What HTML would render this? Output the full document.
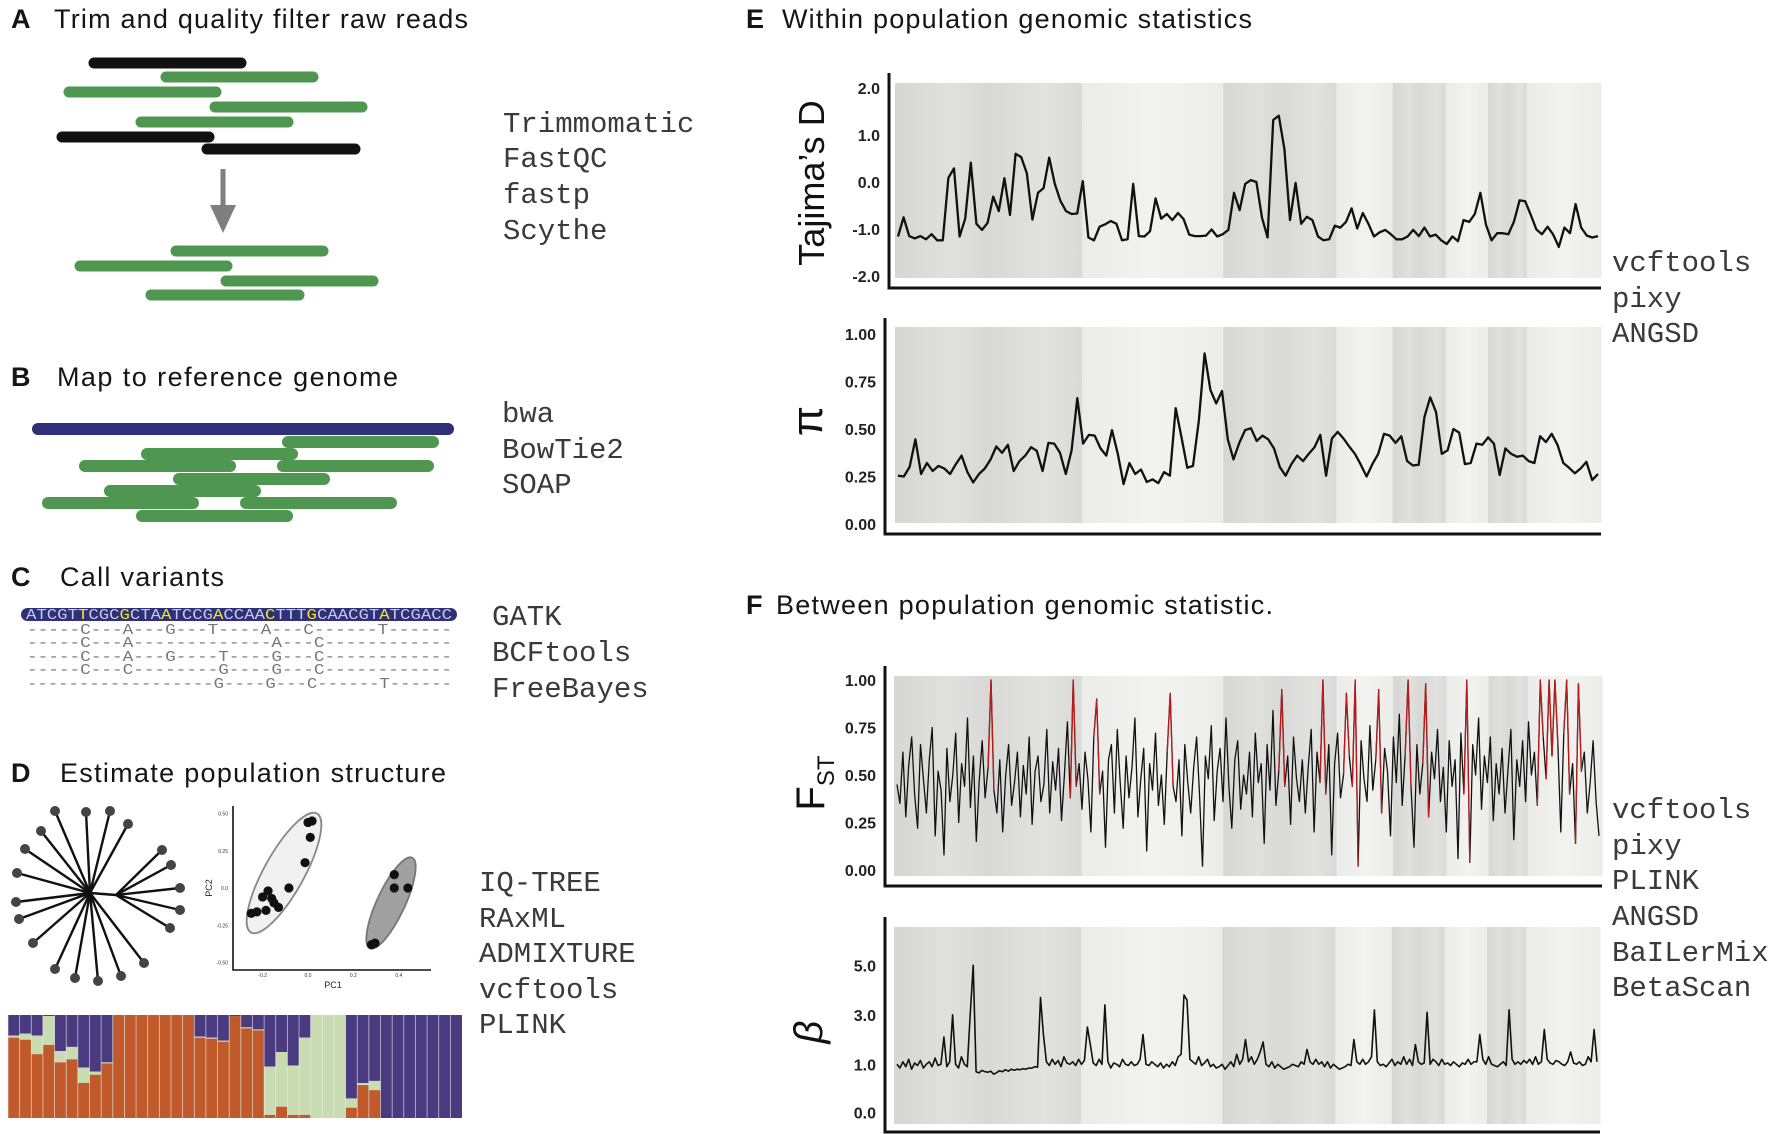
<!DOCTYPE html>
<html><head><meta charset="utf-8"><style>
html,body{margin:0;padding:0;background:#fff;}
svg{display:block;}
.ttl{font-family:"Liberation Sans",sans-serif;font-size:27px;fill:#151515;}
.lt{font-family:"Liberation Sans",sans-serif;font-size:27px;font-weight:bold;fill:#151515;}
.tool{font-family:"Liberation Mono",monospace;font-size:29px;fill:#3a3a3a;}
.tick{font-family:"Liberation Sans",sans-serif;font-size:16px;font-weight:bold;fill:#222;}
.seq{font-family:"Liberation Mono",monospace;font-size:15px;fill:#777;}
</style></head><body>
<svg id="fig" width="1772" height="1134" viewBox="0 0 1772 1134" xmlns="http://www.w3.org/2000/svg">
<text class="lt" x="11" y="28">A</text>
<text class="ttl" x="54" y="28" textLength="414">Trim and quality filter raw reads</text>
<text class="lt" x="11" y="386">B</text>
<text class="ttl" x="57" y="386" textLength="341">Map to reference genome</text>
<text class="lt" x="11" y="586">C</text>
<text class="ttl" x="60" y="586" textLength="164">Call variants</text>
<text class="lt" x="11" y="782">D</text>
<text class="ttl" x="60" y="782" textLength="386">Estimate population structure</text>
<text class="lt" x="746" y="28">E</text>
<text class="ttl" x="782" y="28" textLength="470">Within population genomic statistics</text>
<text class="lt" x="746" y="614">F</text>
<text class="ttl" x="776" y="614" textLength="497">Between population genomic statistic.</text>

<g>
<text class="tool" x="503" y="132">Trimmomatic</text><text class="tool" x="503" y="167">FastQC</text>
<text class="tool" x="503" y="203">fastp</text><text class="tool" x="503" y="239">Scythe</text></g>
<g>
<text class="tool" x="502" y="422">bwa</text><text class="tool" x="502" y="458">BowTie2</text><text class="tool" x="502" y="493">SOAP</text></g>
<g>
<text class="tool" x="492" y="625">GATK</text><text class="tool" x="492" y="661">BCFtools</text><text class="tool" x="492" y="697">FreeBayes</text></g>
<g>
<text class="tool" x="479" y="891">IQ-TREE</text><text class="tool" x="479" y="927">RAxML</text><text class="tool" x="479" y="962">ADMIXTURE</text><text class="tool" x="479" y="998">vcftools</text><text class="tool" x="479" y="1033">PLINK</text></g>
<g>
<text class="tool" x="1612" y="271">vcftools</text><text class="tool" x="1612" y="307">pixy</text><text class="tool" x="1612" y="342">ANGSD</text></g>
<g>
<text class="tool" x="1612" y="818">vcftools</text><text class="tool" x="1612" y="854">pixy</text><text class="tool" x="1612" y="889">PLINK</text><text class="tool" x="1612" y="925">ANGSD</text><text class="tool" x="1612" y="961">BaILerMix</text><text class="tool" x="1612" y="996">BetaScan</text></g>

<g>
<line x1="223" y1="169" x2="223" y2="212" stroke="#7f7f7f" stroke-width="5"/>
<polygon points="210,205 236,205 223,233" fill="#7f7f7f"/></g>

<g>
<rect x="21" y="608" width="436" height="13" rx="6.5" fill="#2e3079"/>
<text x="26" y="619" textLength="426" lengthAdjust="spacingAndGlyphs" style="font-family:'Liberation Mono',monospace;font-size:15px;fill:#c9c9e6">ATCGT<tspan fill="#f7e51e">T</tspan>CGC<tspan fill="#f7e51e">G</tspan>CTA<tspan fill="#f7e51e">A</tspan>TCCG<tspan fill="#f7e51e">A</tspan>CCAA<tspan fill="#f7e51e">C</tspan>TTT<tspan fill="#f7e51e">G</tspan>CAACGT<tspan fill="#f7e51e">A</tspan>TCGACC</text></g>
<g>
<text class="seq" x="27" y="634" textLength="425" lengthAdjust="spacingAndGlyphs">-----C---A---G---T----A---C------T------</text>
<text class="seq" x="27" y="647" textLength="425" lengthAdjust="spacingAndGlyphs">-----C---A-------------A---C------------</text>
<text class="seq" x="27" y="661" textLength="425" lengthAdjust="spacingAndGlyphs">-----C---A---G----T----G---C------------</text>
<text class="seq" x="27" y="674" textLength="425" lengthAdjust="spacingAndGlyphs">-----C---C--------G----G---C------------</text>
<text class="seq" x="27" y="688" textLength="425" lengthAdjust="spacingAndGlyphs">------------------G----G---C------T------</text></g>

<g id="reads"></g>
<g id="tree"></g>
<g id="pca"></g>
<g id="admix"></g>
<g id="charts"></g>
</svg>
<script>
const readsA = [[89,246,63,'#111'],[161,318,77,'g'],[64,221,92,'g'],[210,367,107,'g'],[136,293,122,'g'],[57,214,137,'#111'],[202,360,149,'#111'],[171,328,251,'g'],[75,232,266,'g'],[221,378,281,'g'],[146,304,295,'g']];
const readsB = [[282,439,442],[141,298,454],[79,236,466],[277,434,466],[173,330,479],[104,261,491],[42,199,503],[240,397,503],[136,293,516]];
const tajimaD = [-1.16,-0.75,-1.15,-1.2,-1.15,-1.22,-1.11,-1.24,-1.24,0.09,0.29,-1.16,-0.78,0.41,-0.89,-1.02,-0.87,-0.31,-0.62,0.08,-0.7,0.6,0.53,0.19,-0.8,-0.23,-0.13,0.52,-0.04,-0.4,-0.62,-0.68,-0.67,0.02,-1.18,-1.24,-0.95,-0.9,-0.83,-0.89,-1.24,-1.22,-0.04,-1.15,-1.16,-1.05,-0.35,-0.78,-0.68,-0.81,-0.66,-0.79,-1.12,-1.15,-1.15,-1.14,-1.01,-1.16,-1.11,-1.02,-0.23,-0.6,-0.04,0.04,0,-0.76,-1.18,1.32,1.41,0.7,-0.81,-0.02,-0.89,-0.74,-0.81,-1.16,-1.24,-1.22,-0.93,-0.97,-0.85,-0.56,-0.99,-0.66,-0.89,-1.16,-1.07,-1.02,-1.11,-1.22,-1.22,-1.16,-1.02,-1.15,-0.97,-1.16,-1.12,-1.24,-1.32,-1.16,-1.26,-0.81,-0.85,-0.68,-0.23,-0.91,-1.24,-1.09,-1.09,-1.11,-0.84,-0.39,-0.41,-0.7,-1.01,-1.11,-0.95,-1.12,-1.38,-0.97,-1.09,-0.47,-0.97,-1.14,-1.18,-1.15];
const piValues = [0.254,0.25,0.3,0.446,0.263,0.321,0.279,0.306,0.292,0.263,0.315,0.36,0.273,0.219,0.263,0.292,0.34,0.408,0.375,0.417,0.279,0.331,0.36,0.404,0.385,0.279,0.427,0.423,0.375,0.263,0.388,0.662,0.423,0.469,0.465,0.398,0.36,0.494,0.369,0.21,0.321,0.263,0.287,0.221,0.235,0.215,0.273,0.254,0.61,0.456,0.296,0.306,0.542,0.898,0.706,0.635,0.7,0.446,0.34,0.427,0.494,0.504,0.437,0.465,0.446,0.398,0.3,0.254,0.315,0.36,0.331,0.369,0.404,0.469,0.254,0.45,0.485,0.45,0.408,0.369,0.312,0.25,0.315,0.369,0.475,0.465,0.427,0.462,0.331,0.308,0.312,0.562,0.667,0.59,0.369,0.388,0.5,0.481,0.315,0.321,0.423,0.417,0.456,0.423,0.258,0.398,0.369,0.354,0.36,0.331,0.321,0.462,0.431,0.475,0.417,0.321,0.296,0.267,0.292,0.327,0.231,0.263];
const fstValues = [.45,.35,.62,.28,.55,.70,.40,.22,.66,.48,.30,.58,.75,.18,.52,.42,.08,.64,.36,.50,
.72,.25,.56,.44,.80,.33,.60,.15,.47,.68,.38,.54,1.0,.42,.30,.58,.20,.50,.66,.34,
.46,.62,.28,.55,.40,.70,.24,.52,.60,.36,.45,.74,.30,.57,.42,.64,.26,.50,.78,.38,
1.0,.44,.56,.32,.62,.48,.20,.70,.90,.40,.52,.12,.58,.66,.30,.74,.46,.22,.60,.38,
.54,.80,.28,.48,.64,.10,.56,.42,.72,.34,.50,.24,.62,.93,.44,.36,.58,.18,.66,.46,
.30,.54,.70,.40,.02,.60,.48,.76,.26,.52,.64,.36,.80,.44,.22,.58,.68,.32,.50,.40,
.62,.28,.72,.46,.56,.14,.66,.42,.84,.34,.52,.95,.44,.60,.24,.70,.48,.36,.58,.30,
.54,.74,.20,.62,.46,1.0,.40,.66,.08,.56,.72,.38,.50,.93,.60,.44,1.0,.02,.68,.48,
.36,.76,.42,.58,.95,.30,.64,.52,.18,.70,.46,.82,.34,.60,1.0,.44,.12,.66,.40,.56,
.98,.28,.62,.48,.74,.36,.54,.20,.68,.44,.58,.06,.72,.40,1.0,.04,.66,.50,.80,.32,
.60,.46,.70,.26,.56,.40,.64,.30,.52,.74,.16,.58,.44,.68,.36,.78,.50,.62,.34,1.0,
.70,.48,1.0,.60,1.0,.66,.20,.72,1.0,.40,.56,.14,.98,.52,.62,.30,.46,.68,.36,.18];
const betaValues = [1.0,.85,1.1,.9,1.2,.8,1.05,.95,1.15,.85,1.0,1.1,.9,1.25,.95,1.0,2.1,.9,1.1,3.0,
1.0,.85,1.3,1.0,.9,3.0,5.0,.7,.65,.75,.7,.68,.72,.6,.66,.74,.7,.78,.72,.8,
.76,.8,.78,.82,.8,.85,.84,.9,.88,3.7,2.2,1.1,.95,1.2,1.0,1.15,.9,1.3,1.05,1.0,
1.1,.95,1.2,1.0,1.15,2.5,1.8,1.05,.95,1.2,1.0,3.4,1.1,.85,1.05,1.0,.9,1.2,1.0,.95,
1.1,.95,1.0,1.2,2.2,1.0,.95,1.1,1.0,.9,1.05,.85,1.0,.9,1.1,.95,1.3,1.4,3.8,3.6,
1.2,1.1,1.0,1.3,.95,1.05,1.2,.9,1.0,.85,.9,1.0,.8,.95,1.1,.9,1.4,1.0,1.2,2.0,
1.1,1.3,1.0,1.2,1.5,1.9,1.0,.9,1.1,.85,1.0,.9,.8,.85,.9,1.0,.95,.9,1.1,1.0,
1.6,1.1,1.0,1.2,1.0,1.1,.9,1.1,.85,1.0,.9,.8,.85,.9,1.0,.95,2.0,1.1,1.0,1.2,
1.0,1.1,1.3,3.2,1.1,.95,1.0,.9,1.05,1.2,.95,1.1,1.0,1.3,1.0,1.2,.95,1.8,1.1,1.0,
1.05,3.1,1.0,1.2,1.1,.95,1.2,1.0,1.05,.95,1.1,1.0,.9,1.05,1.0,1.2,1.0,1.1,1.1,2.2,
1.2,1.0,1.3,1.0,.95,.9,1.0,1.1,.95,3.2,1.2,1.0,1.1,1.0,1.15,1.05,1.2,1.0,1.3,1.0,
1.1,2.4,1.2,1.05,1.0,1.15,1.1,1.0,.95,1.1,1.5,1.05,1.0,1.1,.95,1.0,1.3,1.1,2.4,1.1];
const tajimaTicks = [2,1,0,-1,-2];
const tajimaTickLabels = ['2.0','1.0','0.0','-1.0','-2.0'];
const piTicks = [1,0.75,0.5,0.25,0];
const piTickLabels = ['1.00','0.75','0.50','0.25','0.00'];
const fstTicks = [1,0.75,0.5,0.25,0];
const fstTickLabels = ['1.00','0.75','0.50','0.25','0.00'];
const betaTicks = [5,3,1,-0.95];
const betaTickLabels = ['5.0','3.0','1.0','0.0'];
const bandStarts = [0,0.265,0.465,0.625,0.705,0.78,0.84,0.895];
const bandDark = [1,0,1,0,1,0,1,0];
const admixPurple = [.20,.18,.20,.01,.35,.31,.51,.55,.46,0,0,0,0,0,0,0,.21,.22,.25,.01,.12,.14,.50,.36,.49,.22,0,0,0,.81,.66,.64,1,1,1,1,1,1,1];
const admixGreen  = [.02,.06,.18,.28,.11,.12,.15,.03,.01,0,0,0,0,0,0,0,.01,.01,.01,0,.01,.01,.47,.53,.48,.75,1,1,1,.09,.02,.09,0,0,0,0,0,0,0];
const pcaGroup1X = [0,0.018,0.01,-0.013,-0.084,-0.176,-0.2,-0.16,-0.15,-0.13,-0.185,-0.225,-0.25];
const pcaGroup1Y = [0.44,0.45,0.34,0.17,0,-0.02,-0.06,-0.07,-0.10,-0.13,-0.15,-0.16,-0.17];
const pcaGroup2X = [0.38,0.38,0.44,0.295,0.28];
const pcaGroup2Y = [0.09,0,0,-0.37,-0.38];
const treeLeaves = [[55,811],[86,812],[110,811],[128,824],[41,831],[25,849],[17,873],[16,902],[19,919],[33,943],[55,969],[75,978],[98,981],[121,976],[144,963],[162,850],[171,865],[180,888],[180,910],[170,928]];

const NS='http://www.w3.org/2000/svg';
function mk(tag, attrs, parent){const e=document.createElementNS(NS,tag);for(const k in attrs)e.setAttribute(k,attrs[k]);parent.appendChild(e);return e;}

const rg=document.getElementById('reads');
readsA.forEach(r=>{const e=mk('line',{x1:r[0]+5,x2:r[1]-5,y1:r[2],y2:r[2],stroke:r[3]==='g'?'#4f9650':r[3],'stroke-width':11,'stroke-linecap':'round'},rg);

});
const refb=mk('line',{x1:38,x2:448,y1:429,y2:429,stroke:'#2e3079','stroke-width':12,'stroke-linecap':'round'},rg);


readsB.forEach(r=>{const e=mk('line',{x1:r[0]+6,x2:r[1]-6,y1:r[2],y2:r[2],stroke:'#4f9650','stroke-width':12,'stroke-linecap':'round'},rg);

});

const tg=document.getElementById('tree');
treeLeaves.forEach((p,i)=>{const cx=i>=15?116:90, cy=i>=15?895:893;
const l=mk('line',{x1:cx,y1:cy,x2:p[0],y2:p[1],stroke:'#111','stroke-width':2.4},tg);


const c=mk('circle',{cx:p[0],cy:p[1],r:5,fill:'#444'},tg);

});
mk('line',{x1:90,y1:893,x2:116,y2:895,stroke:'#111','stroke-width':2.4},tg);

const pg=document.getElementById('pca');
const px=v=>308+v*227, py=v=>888-v*149;
const ax=mk('path',{d:'M233,806 V970 H431',stroke:'#111','stroke-width':1.6,fill:'none'},pg);


const e1=mk('ellipse',{cx:284,cy:873,rx:68,ry:20,transform:'rotate(-61 284 873)',fill:'#f1f1f1',stroke:'#888','stroke-width':1.8},pg);


const e2=mk('ellipse',{cx:391,cy:903,rx:50,ry:14,transform:'rotate(-65 391 903)',fill:'#a0a0a0',stroke:'#777','stroke-width':1.8},pg);


pcaGroup1X.forEach((v,i)=>{const c=mk('circle',{cx:px(v),cy:py(pcaGroup1Y[i]),r:4.6,fill:'#111'},pg);

});
pcaGroup2X.forEach((v,i)=>{const c=mk('circle',{cx:px(v),cy:py(pcaGroup2Y[i]),r:4.6,fill:'#111'},pg);

});
[['0.50',0.5],['0.25',0.25],['0.0',0],['-0.25',-0.25],['-0.50',-0.5]].forEach(t=>{const e=mk('text',{x:228,y:py(t[1])+2,'text-anchor':'end','font-size':5,'font-family':'Liberation Sans',fill:'#333'},pg);e.textContent=t[0];

});
[['-0.2',-0.2],['0.0',0],['0.2',0.2],['0.4',0.4]].forEach(t=>{const e=mk('text',{x:px(t[1]),y:977,'text-anchor':'middle','font-size':5,'font-family':'Liberation Sans',fill:'#333'},pg);e.textContent=t[0];

});
const pc1=mk('text',{x:333,y:988,'text-anchor':'middle','font-size':9,'font-family':'Liberation Sans',fill:'#222'},pg);pc1.textContent='PC1';


const pc2=mk('text',{x:212,y:888,'text-anchor':'middle','font-size':9,'font-family':'Liberation Sans',fill:'#222',transform:'rotate(-90 212 888)'},pg);pc2.textContent='PC2';



const ag=document.getElementById('admix');
const aX0=8,aW=454,aY0=1015,aH=103,bw=aW/admixPurple.length;
admixPurple.forEach((p,i)=>{const g=admixGreen[i],x=aX0+i*bw;
const r1=mk('rect',{x:x,y:aY0,width:bw,height:aH*p,fill:'#4a3a80'},ag);


const r2=mk('rect',{x:x,y:aY0+aH*p,width:bw,height:aH*g,fill:'#c9dbb0'},ag);


const r3=mk('rect',{x:x,y:aY0+aH*(p+g),width:bw,height:Math.max(0,aH*(1-p-g)),fill:'#c05a2a'},ag);


mk('line',{x1:x,x2:x,y1:aY0,y2:aY0+aH,stroke:'#eee','stroke-width':0.8,'stroke-opacity':0.7},ag);});

const cg=document.getElementById('charts');
function chart(o){
 const g=mk('g',{},cg);
 
 
 const W=o.x1-o.x0;
 bandStarts.forEach((s,i)=>{const e=(i+1<bandStarts.length)?bandStarts[i+1]:1;
  const r=mk('rect',{x:o.x0+s*W,y:o.bgTop,width:(e-s)*W+0.5,height:o.bgBot-o.bgTop,fill:bandDark[i]?'url(#gd)':'url(#gl)'},g);
  
  });
 const y=o.scale;
 const n=o.values.length, xs=i=>o.x0+3+i*(W-6)/(n-1);
 let d='';o.values.forEach((v,i)=>{d+=(i?'L':'M')+xs(i).toFixed(1)+','+y(v).toFixed(1);});
 const p=mk('path',{d:d,fill:'none',stroke:'#111','stroke-width':o.sw,'stroke-linejoin':'round'},g);
 
 
 if(o.red){o.values.forEach((v,i)=>{if(v>=0.9&&i>0){
  const s=mk('path',{d:'M'+xs(i-1)+','+y(o.values[i-1])+'L'+xs(i)+','+y(v)+(i+1<n?'L'+xs(i+1)+','+y(o.values[i+1]):''),fill:'none',stroke:'#b81c1c','stroke-width':o.sw},g);
  
  }});}
 const a=mk('path',{d:'M'+o.ax+','+o.axTop+'V'+o.axBot+'H'+o.x1,fill:'none',stroke:'#111','stroke-width':3},g);
 
 
 o.ticks.forEach((t,i)=>{const e=mk('text',{x:o.ax-9,y:y(t)+6,'text-anchor':'end',class:'tick'},g);e.textContent=o.labels[i];
  
  });
}
const defs=mk('defs',{},document.getElementById('fig'));
const gd=mk('linearGradient',{id:'gd',x1:0,x2:1,y1:0,y2:0},defs);
[['0','#d6d6d4'],['0.3','#e0e0de'],['0.5','#d8d8d6'],['0.8','#e2e2e0'],['1','#d9d9d7']].forEach(s=>mk('stop',{offset:s[0],'stop-color':s[1]},gd));
const gl=mk('linearGradient',{id:'gl',x1:0,x2:1,y1:0,y2:0},defs);
[['0','#ebebe9'],['0.5','#f2f2f0'],['1','#ececea']].forEach(s=>mk('stop',{offset:s[0],'stop-color':s[1]},gl));

chart({name:'tajimas-d-chart',values:tajimaD,x0:895,x1:1601,bgTop:83,bgBot:278,ax:889,axTop:73,axBot:288,scale:v=>182-47*v,ticks:tajimaTicks,labels:tajimaTickLabels,sw:2.3});
chart({name:'pi-chart',values:piValues,x0:895,x1:1601,bgTop:327,bgBot:523,ax:885,axTop:318,axBot:534,scale:v=>524-190*v,ticks:piTicks,labels:piTickLabels,sw:2.3});
chart({name:'fst-chart',values:fstValues,x0:894,x1:1602,bgTop:676,bgBot:876,ax:885,axTop:666,axBot:886,scale:v=>870-190*v,ticks:fstTicks,labels:fstTickLabels,sw:1.3,red:true});
chart({name:'beta-chart',values:betaValues,x0:894,x1:1600,bgTop:927,bgBot:1124,ax:885,axTop:917,axBot:1132,scale:v=>1089-24.75*v,ticks:betaTicks,labels:betaTickLabels,sw:1.6});

function ytitle(txt,x,y,size,name,style){const e=mk('text',{x:x,y:y,'text-anchor':'middle',transform:'rotate(-90 '+x+' '+y+')','font-family':'Liberation Sans, DejaVu Sans, sans-serif','font-size':size,fill:'#111',style:style||''},cg);e.textContent=txt;

return e;}
ytitle("Tajima\u2019s D",824,183,36,'tajimas-d-y-title');
ytitle("\u03c0",822,421,44,'pi-y-title');
const ft=ytitle("F",824,783,40,'fst-y-title');
const sub=document.createElementNS(NS,'tspan');sub.setAttribute('font-size','24');sub.setAttribute('dy','10');sub.textContent='ST';ft.appendChild(sub);
ytitle("\u03b2",822,1032,40,'beta-y-title','font-style:italic');
</script>
</body></html>
